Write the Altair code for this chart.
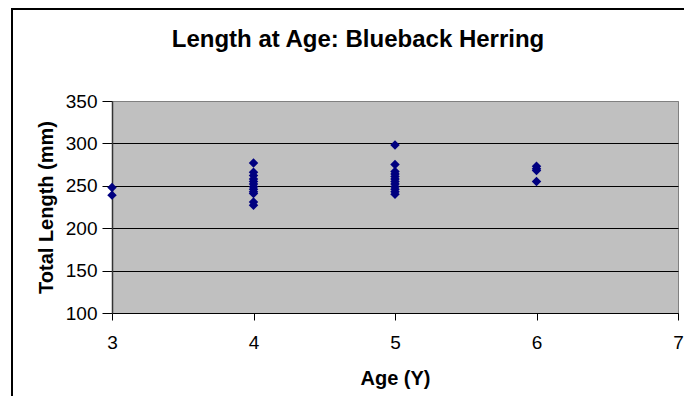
import altair as alt
import pandas as pd

# Data
age3_lengths = [248, 239]
age4_lengths = [277, 266, 262, 258, 255, 252, 249, 246, 243, 241, 231, 227]
age5_lengths = [298, 275, 267, 264, 261, 258, 255, 252, 249, 246, 243, 240]
age6_lengths = [273, 270, 268, 255]

x_ticks = [3, 4, 5, 6, 7]
y_ticks = [100, 150, 200, 250, 300, 350]

chart_title = "Length at Age: Blueback Herring"
x_title = "Age (Y)"
y_title = "Total Length (mm)"

rows = []
for a, vals in [(3, age3_lengths), (4, age4_lengths), (5, age5_lengths), (6, age6_lengths)]:
    for v in vals:
        rows.append({"age": a, "length": v})
df = pd.DataFrame(rows)

W, H = 566, 212
PAD_L = 104
FONT = "Liberation Sans"

points = alt.Chart(df).mark_point(
    shape="diamond", filled=True, size=90, color="#000080", opacity=1
).encode(
    x=alt.X(
        "age:Q",
        scale=alt.Scale(domain=[3, 7], nice=False, zero=False),
        axis=alt.Axis(
            values=x_ticks, format="d", title=x_title, grid=False,
            labelFont=FONT, labelFontSize=19, labelColor="black",
            labelBaseline="alphabetic", labelPadding=28, labelFlush=False,
            tickColor="black", tickSize=7, domainColor="black",
            titleFont=FONT, titleFontSize=20, titleFontWeight="bold",
            titleColor="black", titleX=W / 2, titleY=71,
            titleBaseline="alphabetic", titleAlign="center",
        ),
    ),
    y=alt.Y(
        "length:Q",
        scale=alt.Scale(domain=[100, 350], nice=False, zero=False),
        axis=alt.Axis(
            values=y_ticks, title=y_title, grid=True,
            gridColor={"condition": {"test": "datum.value === 350", "value": "#808080"}, "value": "black"},
            gridWidth=1,
            labelFont=FONT, labelFontSize=19, labelColor="black",
            labelPadding=5, labelFlush=False,
            tickColor="black", tickSize=10, domainColor="#333333", domainWidth=1.5,
            titleFont=FONT, titleFontSize=20, titleFontWeight="bold",
            titleColor="black", titleAngle=-90, titleX=-66, titleY=H / 2,
            titleBaseline="middle", titleAlign="center",
        ),
    ),
)

title_df = pd.DataFrame({"t": [chart_title]})
title = alt.Chart(title_df).mark_text(
    font=FONT, fontSize=24, fontWeight="bold", baseline="alphabetic",
    align="center", color="black"
).encode(x=alt.value(246), y=alt.value(-54), text="t:N")

border_df = pd.DataFrame({"k": [0]})
left_border = alt.Chart(border_df).mark_rule(color="black", strokeWidth=2).encode(
    x=alt.value(-100), y=alt.value(-93), y2=alt.value(H + 100)
)
top_border = alt.Chart(border_df).mark_rule(color="black", strokeWidth=2).encode(
    x=alt.value(-101), x2=alt.value(W + 60), y=alt.value(-92)
)

chart = alt.layer(left_border, top_border, title, points).properties(
    width=W, height=H,
    autosize=alt.AutoSizeParams(type="none"),
    padding={"left": PAD_L, "top": 93, "right": 6, "bottom": 83},
    background="white",
).configure_view(fill="#C0C0C0", stroke="#808080", strokeWidth=1)

chart.save("out.html", embed_options={"renderer": "svg", "actions": False})
